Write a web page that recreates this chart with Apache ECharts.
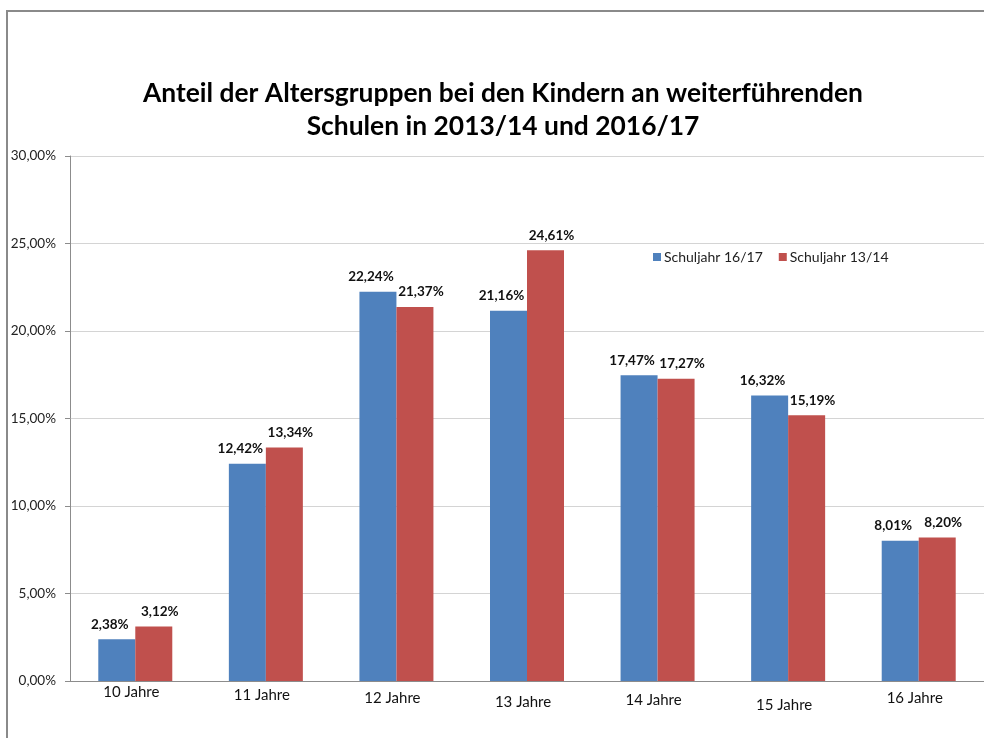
<!DOCTYPE html>
<html>
<head>
<meta charset="utf-8">
<script src="https://cdn.jsdelivr.net/npm/echarts@6/dist/echarts.min.js"></script>
<style>
  html, body { margin: 0; padding: 0; background: #fff; }
  #chart { width: 984px; height: 738px; }
  #frame {
    position: absolute; left: 6px; top: 10px; right: -2px; bottom: -2px;
    border-left: 2px solid #8a8a8a; border-top: 2px solid #8a8a8a;
    pointer-events: none;
  }
</style>
</head>
<body>
<div id="chart"></div>
<div id="frame"></div>
<script>
const categories = ['10 Jahre', '11 Jahre', '12 Jahre', '13 Jahre', '14 Jahre', '15 Jahre', '16 Jahre']
const seriesNames = ['Schuljahr 16/17', 'Schuljahr 13/14']
const values1617 = [2.38, 12.42, 22.24, 21.16, 17.47, 16.32, 8.01]
const values1314 = [3.12, 13.34, 21.37, 24.61, 17.27, 15.19, 8.20]

// kleine Versätze der Achsenbeschriftung wie im Original
const labelShift = [0, 3, 6, 10, 8, 13, 6]

const fmt = v => v.toFixed(2).replace('.', ',') + '%'
const font = 'Lato'

const barLabel = dx => ({
  show: true,
  position: 'top',
  distance: 8,
  offset: [dx, 0],
  fontFamily: font,
  fontWeight: 'bold',
  fontSize: 13.5,
  color: '#111',
  formatter: p => fmt(p.value)
})

const chart = echarts.init(document.getElementById('chart'))
chart.setOption({
  animation: false,
  textStyle: { fontFamily: font },
  title: {
    text: 'Anteil der Altersgruppen bei den Kindern an weiterführenden\nSchulen in 2013/14 und 2016/17',
    left: 498,
    top: 72,
    textAlign: 'center',
    textStyle: { fontFamily: font, fontSize: 26.4, fontWeight: 'bold', color: '#000', lineHeight: 33 }
  },
  legend: {
    data: seriesNames,
    left: 648,
    top: 245,
    itemWidth: 8,
    itemHeight: 8,
    itemGap: 16,
    icon: 'rect',
    textStyle: { fontFamily: font, fontSize: 14, color: '#222', padding: [0, 0, 0, -2] }
  },
  grid: { left: 70, right: 0, top: 156, bottom: 57 },
  xAxis: {
    type: 'category',
    data: categories.map((c, i) => ({ value: c, textStyle: { padding: [labelShift[i], 0, 0, -8] } })),
    axisLine: { lineStyle: { color: '#8c8c8c', width: 1 } },
    axisTick: { show: false },
    axisLabel: { color: '#111', fontSize: 15, margin: 4 }
  },
  yAxis: {
    type: 'value',
    min: 0,
    max: 30,
    interval: 5,
    axisLine: { show: true, lineStyle: { color: '#8c8c8c' } },
    axisTick: { show: true, length: 5, lineStyle: { color: '#8c8c8c' } },
    splitLine: { lineStyle: { color: '#d4d4d4' } },
    axisLabel: { color: '#222', fontSize: 13.5, margin: 14, formatter: v => fmt(v) }
  },
  series: [
    {
      name: seriesNames[0],
      type: 'bar',
      data: values1617,
      barWidth: 37,
      barGap: 0,
      itemStyle: { color: '#4F81BD' },
      label: barLabel(-7)
    },
    {
      name: seriesNames[1],
      type: 'bar',
      data: values1314,
      barWidth: 37,
      barGap: 0,
      itemStyle: { color: '#C0504D' },
      label: barLabel(6)
    }
  ]
})
</script>
</body>
</html>
